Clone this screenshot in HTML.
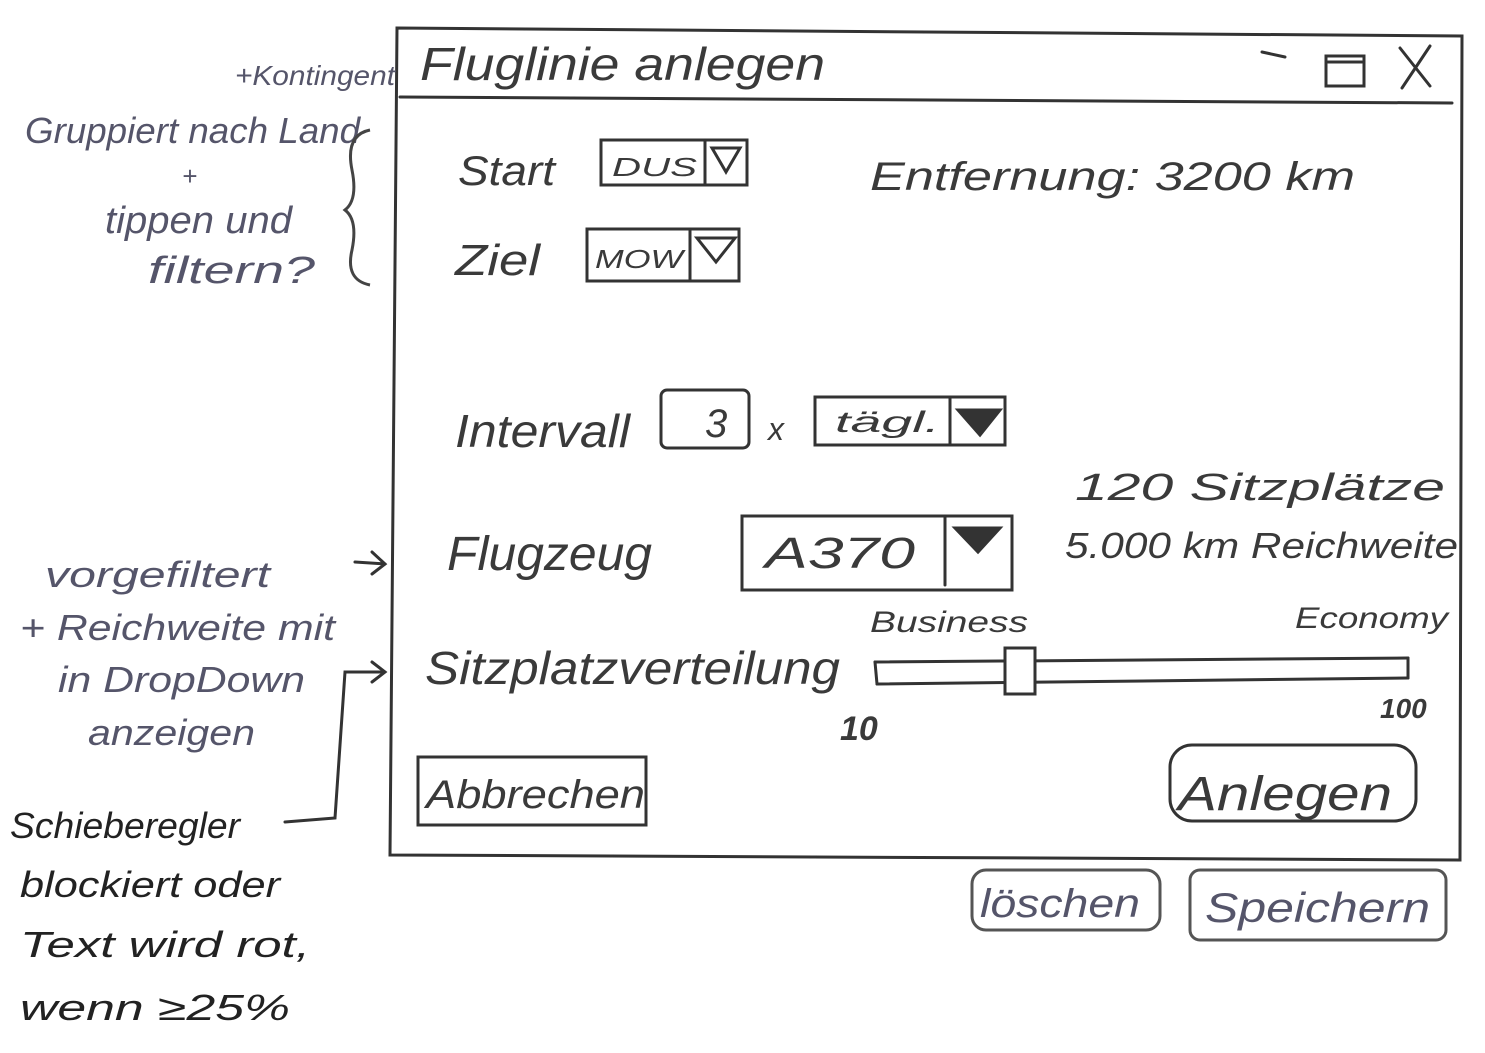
<!DOCTYPE html>
<html><head><meta charset="utf-8"><style>
html,body{margin:0;padding:0;background:#fff;}
svg{display:block;}
text{font-family:"Liberation Sans",sans-serif;font-style:italic;}
.m{fill:#3a3a3a;}
.n{fill:#55556a;}
</style></head><body>
<svg width="1485" height="1053" viewBox="0 0 1485 1053" xmlns="http://www.w3.org/2000/svg">
<g fill="none" stroke="#333" stroke-width="3" stroke-linecap="round">
<path d="M397 28 L1462 36 L1460 860 L390 855 Z"/>
<path d="M400 97 L1452 103"/>
<path d="M1262 52 L1285 57"/>
<rect x="1326" y="56" width="38" height="30"/>
<path d="M1328 62 L1362 62"/>
<path d="M1400 48 L1430 86 M1430 46 L1402 88"/>
<rect x="601" y="140" width="146" height="45"/>
<path d="M705 140 L705 185"/>
<path d="M712 148 L740 148 L726 172 Z"/>
<rect x="587" y="229" width="152" height="52"/>
<path d="M690 229 L690 281"/>
<path d="M697 238 L735 238 L716 262 Z"/>
<rect x="661" y="390" width="88" height="58" rx="6"/>
<rect x="815" y="397" width="190" height="48"/>
<path d="M950 397 L950 445"/>
<path d="M958 410 L1000 410 L980 435 Z" fill="#333"/>
<rect x="742" y="516" width="270" height="74"/>
<path d="M945 516 L945 585"/>
<path d="M955 528 L1000 528 L978 552 Z" fill="#333"/>
<path d="M875 662 L1408 658 M877 684 L1408 678"/>
<path d="M875 662 L877 684 M1408 658 L1408 678"/>
<rect x="1005" y="648" width="30" height="46" fill="#fff"/>
<rect x="418" y="757" width="228" height="68"/>
<rect x="1170" y="745" width="246" height="76" rx="22"/>
<rect x="972" y="870" width="188" height="60" rx="14" stroke="#555"/>
<rect x="1190" y="870" width="256" height="70" rx="10" stroke="#555"/>
</g>
<g lengthAdjust="spacingAndGlyphs">
<text class="m" x="420" y="80" font-size="46" textLength="405" lengthAdjust="spacingAndGlyphs">Fluglinie  anlegen</text>
<text class="m" x="458" y="185" font-size="42" textLength="97" lengthAdjust="spacingAndGlyphs">Start</text>
<text class="m" x="612" y="176" font-size="26" textLength="85" lengthAdjust="spacingAndGlyphs">DUS</text>
<text class="m" x="455" y="275" font-size="44" textLength="85" lengthAdjust="spacingAndGlyphs">Ziel</text>
<text class="m" x="595" y="268" font-size="26" textLength="88" lengthAdjust="spacingAndGlyphs">MOW</text>
<text class="m" x="870" y="190" font-size="40" textLength="485" lengthAdjust="spacingAndGlyphs">Entfernung: 3200 km</text>
<text class="m" x="455" y="447" font-size="46" textLength="175" lengthAdjust="spacingAndGlyphs">Intervall</text>
<text class="m" x="705" y="437" font-size="40">3</text>
<text class="m" x="768" y="440" font-size="32">x</text>
<text class="m" x="835" y="432" font-size="30" textLength="105" lengthAdjust="spacingAndGlyphs">tägl.</text>
<text class="m" x="447" y="570" font-size="48" textLength="205" lengthAdjust="spacingAndGlyphs">Flugzeug</text>
<text class="m" x="765" y="568" font-size="44" textLength="150" lengthAdjust="spacingAndGlyphs">A370</text>
<text class="m" x="1075" y="500" font-size="38" textLength="370" lengthAdjust="spacingAndGlyphs">120  Sitzplätze</text>
<text class="m" x="1065" y="558" font-size="36" textLength="393" lengthAdjust="spacingAndGlyphs">5.000 km Reichweite</text>
<text class="m" x="870" y="632" font-size="30" textLength="158" lengthAdjust="spacingAndGlyphs">Business</text>
<text class="m" x="1295" y="628" font-size="30" textLength="153" lengthAdjust="spacingAndGlyphs">Economy</text>
<text class="m" x="425" y="684" font-size="46" textLength="415" lengthAdjust="spacingAndGlyphs">Sitzplatzverteilung</text>
<text class="m" x="840" y="740" font-size="34" font-weight="bold">10</text>
<text class="m" x="1380" y="718" font-size="28" font-weight="bold">100</text>
<text class="m" x="426" y="808" font-size="40" textLength="219" lengthAdjust="spacingAndGlyphs">Abbrechen</text>
<text class="m" x="1178" y="810" font-size="48" textLength="214" lengthAdjust="spacingAndGlyphs">Anlegen</text>
<text class="n" x="980" y="917" font-size="40" textLength="160" lengthAdjust="spacingAndGlyphs">löschen</text>
<text class="n" x="1205" y="922" font-size="42" textLength="225" lengthAdjust="spacingAndGlyphs">Speichern</text>
<text class="n" x="235" y="85" font-size="28" textLength="160" lengthAdjust="spacingAndGlyphs">+Kontingent</text>
<text class="n" x="25" y="143" font-size="36" textLength="335" lengthAdjust="spacingAndGlyphs">Gruppiert nach Land</text>
<text class="n" x="182" y="185" font-size="26">+</text>
<text class="n" x="105" y="233" font-size="38" textLength="187" lengthAdjust="spacingAndGlyphs">tippen und</text>
<text class="n" x="148" y="283" font-size="38" textLength="167" lengthAdjust="spacingAndGlyphs">filtern?</text>
<text class="n" x="45" y="587" font-size="36" textLength="225" lengthAdjust="spacingAndGlyphs">vorgefiltert</text>
<text class="n" x="20" y="640" font-size="36" textLength="315" lengthAdjust="spacingAndGlyphs">+ Reichweite mit</text>
<text class="n" x="58" y="692" font-size="36" textLength="247" lengthAdjust="spacingAndGlyphs">in DropDown</text>
<text class="n" x="88" y="745" font-size="36" textLength="167" lengthAdjust="spacingAndGlyphs">anzeigen</text>
<text fill="#222" x="10" y="838" font-size="36" textLength="230" lengthAdjust="spacingAndGlyphs">Schieberegler</text>
<text fill="#222" x="20" y="897" font-size="36" textLength="260" lengthAdjust="spacingAndGlyphs">blockiert oder</text>
<text fill="#222" x="20" y="957" font-size="36" textLength="290" lengthAdjust="spacingAndGlyphs">Text wird rot,</text>
<text fill="#222" x="20" y="1020" font-size="36" textLength="270" lengthAdjust="spacingAndGlyphs">wenn ≥25%</text>
</g>
<path d="M370 130 Q345 135 352 170 Q358 200 345 210 Q358 220 352 250 Q345 280 370 285" fill="none" stroke="#444" stroke-width="3"/>
<g fill="none" stroke="#333" stroke-width="3" stroke-linecap="round">
<path d="M355 562 L385 564 M372 552 L385 564 L372 574"/>
<path d="M285 822 L335 818 L345 672 L385 672 M372 662 L385 672 L372 682"/>
</g>
</svg>
</body></html>
